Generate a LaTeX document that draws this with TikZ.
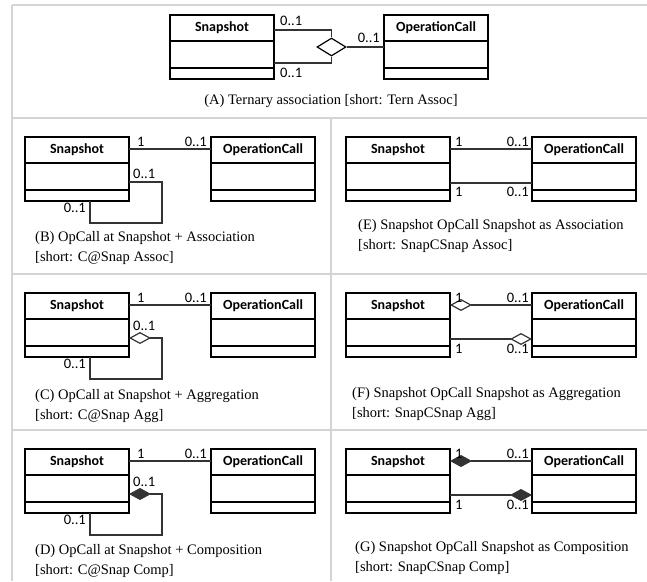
\documentclass[tikz,border=0pt]{standalone}
\usepackage{fontspec}
\setmainfont{Liberation Serif}
\newfontfamily\calibri{Carlito}
\usetikzlibrary{positioning,calc,shapes.geometric,arrows.meta}

\tikzset{
  tablerule/.style={draw=black!17, line width=1.5pt},
  classbox/.style={draw, line width=1.5pt, minimum width=104pt, minimum height=64pt,
    inner sep=0pt, outer sep=0pt, anchor=north west},
  classname/.style={font=\calibri\bfseries\fontsize{14}{16}\selectfont},
  conn/.style={draw=black!80, line width=1.2pt},
  mult/.style={font=\calibri\fontsize{14.5}{16}\selectfont, inner sep=0pt},
  captext/.style={font=\fontsize{14.5}{20}\selectfont, align=left, inner sep=0pt},
  aggr/.style={{Diamond[open,length=22pt,width=12pt]}-},
  comp/.style={{Diamond[length=22pt,width=12pt]}-},
}

% class box: name, x, y (top left), title
\newcommand{\umlclass}[4]{%
  \node[classbox] (#1) at (#2,#3) {};
  \node[classname] (#1-name) at (#2+52,#3+13) {#4};
  \draw[line width=1.5pt] (#2,#3+26) -- (#2+104,#3+26);
  \draw[line width=1.5pt] (#2,#3+53) -- (#2+104,#3+53);
}

\begin{document}
\begin{tikzpicture}[x=1pt,y=-1pt]
  \useasboundingbox (0,0) rectangle (647,581);
  % table
  \draw[tablerule] (12,5) -- (647,5);
  \draw[tablerule] (12,5) -- (12,581);
  \draw[tablerule] (12,118) -- (647,118);
  \draw[tablerule] (12,274) -- (647,274);
  \draw[tablerule] (12,430) -- (647,430);
  \draw[tablerule] (331,118) -- (331,581);

  % (A)
  \umlclass{snapA}{170}{15}{Snapshot}
  \umlclass{opA}{384}{15}{OperationCall}
  \node[draw, diamond, line width=1.2pt, minimum width=29pt, minimum height=18pt,
    inner sep=0pt] (ternA) at (331.5,47) {};
  \draw[conn] ($(snapA.north east)+(0,15)$) -| (ternA.north);
  \draw[conn] ($(snapA.north east)+(0,48)$) -| (ternA.south);
  \draw[conn] (ternA.east) -- (ternA.east -| opA.west);
  \node[mult, anchor=base west] (mA1) at (280,25) {0..1};
  \node[mult, anchor=base west] (mA2) at (280,77) {0..1};
  \node[mult, anchor=base east] (mA3) at (380,42) {0..1};
  \node[captext, anchor=base] (capA) at (331,104) {(A) Ternary association [short: Tern Assoc]};

  % (B)
  \umlclass{snapB}{25}{137}{Snapshot}
  \umlclass{opB}{211}{137}{OperationCall}
  \coordinate (b1) at ($(snapB.north east)+(0,12)$);
  \draw[conn] (b1) -- (b1 -| opB.west);
  \draw[conn] ($(snapB.north east)+(0,45)$) -| ++(33,41) -| ($(snapB.south west)+(65,0)$);
  \node[mult, anchor=base west] (mB1) at (137,146) {1};
  \node[mult, anchor=base east] (mB2) at (207,146) {0..1};
  \node[mult, anchor=base west] (mB3) at (133,178) {0..1};
  \node[mult, anchor=base east] (mB4) at (86,212) {0..1};
  \node[captext, anchor=base west] (capB) at (35,261) {(B) OpCall at Snapshot + Association\\{}[short: C@Snap Assoc]};

  % (C)
  \umlclass{snapC}{25}{293}{Snapshot}
  \umlclass{opC}{211}{293}{OperationCall}
  \coordinate (c1) at ($(snapC.north east)+(0,12)$);
  \draw[conn] (c1) -- (c1 -| opC.west);
  \draw[conn,aggr] ($(snapC.north east)+(0,45)$) -| ++(33,41) -| ($(snapC.south west)+(65,0)$);
  \node[mult, anchor=base west] (mC1) at (137,302) {1};
  \node[mult, anchor=base east] (mC2) at (207,302) {0..1};
  \node[mult, anchor=base west] (mC3) at (133,330) {0..1};
  \node[mult, anchor=base east] (mC4) at (86,368) {0..1};
  \node[captext, anchor=base west] (capC) at (35,419) {(C) OpCall at Snapshot + Aggregation\\{}[short: C@Snap Agg]};

  % (D)
  \umlclass{snapD}{25}{449}{Snapshot}
  \umlclass{opD}{211}{449}{OperationCall}
  \coordinate (d1) at ($(snapD.north east)+(0,12)$);
  \draw[conn] (d1) -- (d1 -| opD.west);
  \draw[conn,comp] ($(snapD.north east)+(0,45)$) -| ++(33,41) -| ($(snapD.south west)+(65,0)$);
  \node[mult, anchor=base west] (mD1) at (137,458) {1};
  \node[mult, anchor=base east] (mD2) at (207,458) {0..1};
  \node[mult, anchor=base west] (mD3) at (133,486) {0..1};
  \node[mult, anchor=base east] (mD4) at (86,524) {0..1};
  \node[captext, anchor=base west] (capD) at (35,574) {(D) OpCall at Snapshot + Composition\\{}[short: C@Snap Comp]};

  % (E)
  \umlclass{snapE}{346}{137}{Snapshot}
  \umlclass{opE}{532}{137}{OperationCall}
  \coordinate (e1) at ($(snapE.north east)+(0,12)$);
  \coordinate (e2) at ($(snapE.north east)+(0,46)$);
  \draw[conn] (e1) -- (e1 -| opE.west);
  \draw[conn] (e2) -- (e2 -| opE.west);
  \node[mult, anchor=base west] (mE1) at (455,146) {1};
  \node[mult, anchor=base east] (mE2) at (529,146) {0..1};
  \node[mult, anchor=base west] (mE3) at (455,196) {1};
  \node[mult, anchor=base east] (mE4) at (529,196) {0..1};
  \node[captext, anchor=base west] (capE) at (358,249) {(E) Snapshot OpCall Snapshot as Association\\{}[short: SnapCSnap Assoc]};

  % (F)
  \umlclass{snapF}{346}{293}{Snapshot}
  \umlclass{opF}{532}{293}{OperationCall}
  \coordinate (f1) at ($(snapF.north east)+(0,12)$);
  \coordinate (f2) at ($(snapF.north east)+(0,46)$);
  \draw[conn,aggr] (f1) -- (f1 -| opF.west);
  \draw[conn,aggr] (f2 -| opF.west) -- (f2);
  \node[mult, anchor=base west] (mF1) at (455,302) {1};
  \node[mult, anchor=base east] (mF2) at (529,302) {0..1};
  \node[mult, anchor=base west] (mF3) at (455,353) {1};
  \node[mult, anchor=base east] (mF4) at (529,353) {0..1};
  \node[captext, anchor=base west] (capF) at (352,417) {(F) Snapshot OpCall Snapshot as Aggregation\\{}[short: SnapCSnap Agg]};

  % (G)
  \umlclass{snapG}{346}{449}{Snapshot}
  \umlclass{opG}{532}{449}{OperationCall}
  \coordinate (g1) at ($(snapG.north east)+(0,12)$);
  \coordinate (g2) at ($(snapG.north east)+(0,46)$);
  \draw[conn,comp] (g1) -- (g1 -| opG.west);
  \draw[conn,comp] (g2 -| opG.west) -- (g2);
  \node[mult, anchor=base west] (mG1) at (455,458) {1};
  \node[mult, anchor=base east] (mG2) at (529,458) {0..1};
  \node[mult, anchor=base west] (mG3) at (455,509) {1};
  \node[mult, anchor=base east] (mG4) at (529,509) {0..1};
  \node[captext, anchor=base west] (capG) at (355,571) {(G) Snapshot OpCall Snapshot as Composition\\{}[short: SnapCSnap Comp]};
\end{tikzpicture}
\end{document}
